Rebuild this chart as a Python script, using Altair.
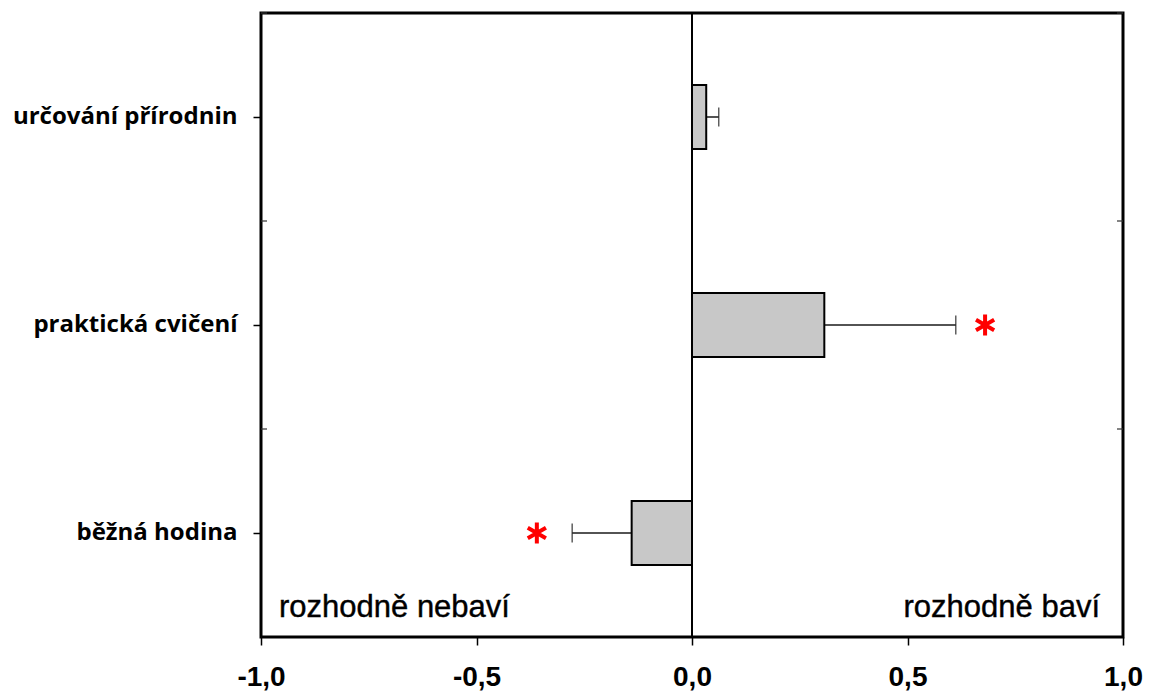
import altair as alt
import pandas as pd

categories = ["určování přírodnin", "praktická cvičení", "běžná hodina"]
means = [0.033, 0.307, -0.140]
err_ends = [0.062, 0.612, -0.278]
star_categories = ["praktická cvičení", "běžná hodina"]
star_x = [0.680, -0.360]
x_ticks = [-1.0, -0.5, 0.0, 0.5, 1.0]
label_left = "rozhodně nebaví"
label_right = "rozhodně baví"

df = pd.DataFrame({"cat": categories, "mean": means, "err": err_ends})
stars = pd.DataFrame({"cat": star_categories, "x": star_x})

W, H = 862, 624

xscale = alt.Scale(domain=[-1, 1], nice=False, zero=False)
yenc = alt.Y(
    "cat:N",
    sort=categories,
    title=None,
    axis=alt.Axis(
        domain=False,
        tickSize=8,
        tickWidth=1.5,
        tickColor="black",
        labelPadding=16,
        labelFont="Open Sans",
        labelFontWeight="bold",
        labelFontSize=24,
        labelColor="black",
        labelLimit=0,
    ),
)
xenc = alt.X(
    "mean:Q",
    scale=xscale,
    title=None,
    axis=alt.Axis(
        values=x_ticks,
        domain=False,
        grid=False,
        tickSize=8,
        tickWidth=1.5,
        tickColor="black",
        labelPadding=18,
        labelFlush=False,
        labelFont="Liberation Sans",
        labelFontWeight="bold",
        labelFontSize=28,
        labelColor="black",
        labelExpr="replace(replace(format(datum.value, '.1f'), '.', ','), '\u2212', '-')",
    ),
)

base = alt.Chart(df)

errs = base.mark_rule(color="#1a1a1a", strokeWidth=1.5).encode(
    x=xenc, x2="err:Q", y=yenc
)
caps = base.mark_tick(orient="vertical", size=19, thickness=1.5, color="#1a1a1a").encode(
    x=alt.X("err:Q", scale=xscale), y=alt.Y("cat:N", sort=categories)
)
bars = base.mark_bar(size=64, fill="#c8c8c8", stroke="black", strokeWidth=2).encode(
    x=xenc, x2=alt.datum(0), y=yenc
)
zero = base.mark_rule(color="black", strokeWidth=2).encode(
    x=alt.X(datum=0, scale=xscale)
)
minor_l = base.mark_rule(color="#333333", strokeWidth=1.2).encode(
    y=alt.Y("cat:N", sort=categories, bandPosition=0),
    x=alt.value(0),
    x2=alt.value(6),
)
minor_r = base.mark_rule(color="#333333", strokeWidth=1.2).encode(
    y=alt.Y("cat:N", sort=categories, bandPosition=0),
    x=alt.value(W - 6),
    x2=alt.value(W),
)
asterisk = "M0,-1L0,1M-0.866,-0.5L0.866,0.5M-0.866,0.5L0.866,-0.5"
star_marks = alt.Chart(stars).mark_point(
    shape=asterisk, size=440, filled=False, stroke="#ff0000", strokeWidth=4, opacity=1
).encode(
    x=alt.X("x:Q", scale=xscale),
    y=alt.Y("cat:N", sort=categories),
)
txt_l = alt.Chart(pd.DataFrame({"t": [label_left]})).mark_text(
    align="left", baseline="alphabetic", font="Liberation Sans", fontSize=31,
    color="black", stroke="black", strokeWidth=0.4
).encode(text="t:N", x=alt.value(18), y=alt.value(604))
txt_r = alt.Chart(pd.DataFrame({"t": [label_right]})).mark_text(
    align="right", baseline="alphabetic", font="Liberation Sans", fontSize=31,
    color="black", stroke="black", strokeWidth=0.4
).encode(text="t:N", x=alt.value(W - 23), y=alt.value(604))

chart = (
    alt.layer(errs, caps, bars, zero, minor_l, minor_r, star_marks, txt_l, txt_r)
    .properties(
        width=W,
        height=H,
        autosize=alt.AutoSizeParams(type="none"),
        padding={"left": 253, "top": 5, "right": 23, "bottom": 55},
    )
    .configure(background="white", view=alt.ViewConfig(stroke="black", strokeWidth=3))
)

chart.save("out.html", embed_options={"renderer": "svg", "actions": False})
